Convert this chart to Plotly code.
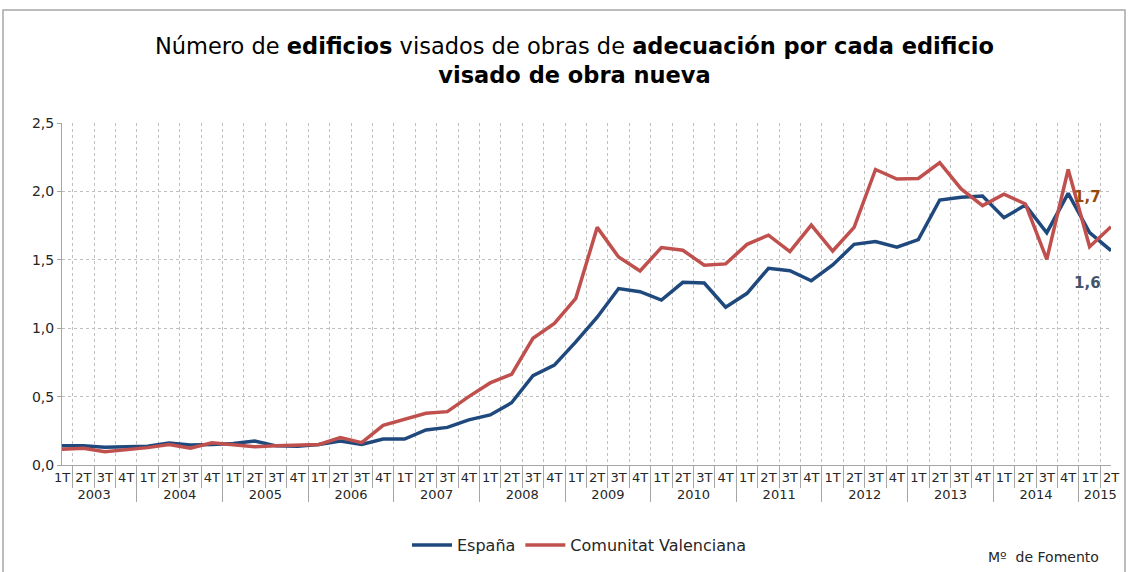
import plotly.graph_objects as go

# Trimestres 2003 1T .. 2015 2T
years = [str(y) for y in range(2003, 2016)]
quarters = ["1T", "2T", "3T", "4T"]

espana = [
    0.14, 0.14, 0.13, 0.134,
    0.137, 0.16, 0.146, 0.15,
    0.158, 0.175, 0.14, 0.137,
    0.15, 0.175, 0.15, 0.19,
    0.19, 0.256, 0.275, 0.33,
    0.366, 0.455, 0.653, 0.73,
    0.90, 1.08, 1.29, 1.267,
    1.206, 1.335, 1.33, 1.153,
    1.255, 1.438, 1.42, 1.347,
    1.462, 1.613, 1.633, 1.593,
    1.647, 1.937, 1.957, 1.966,
    1.808, 1.90, 1.698, 1.986,
    1.698, 1.567,
]
valenciana = [
    0.115, 0.122, 0.097, 0.11,
    0.127, 0.15, 0.122, 0.163,
    0.146, 0.134, 0.14, 0.146,
    0.15, 0.20, 0.163, 0.29,
    0.334, 0.378, 0.39, 0.50,
    0.60, 0.663, 0.926, 1.035,
    1.218, 1.737, 1.52, 1.418,
    1.59, 1.57, 1.46, 1.47,
    1.613, 1.68, 1.56, 1.754,
    1.564, 1.737, 2.16, 2.09,
    2.095, 2.21, 2.018, 1.896,
    1.98, 1.908, 1.504, 2.16,
    1.596, 1.742,
]

n = len(espana)
x_year = [years[i // 4] for i in range(n)]
x_q = [quarters[i % 4] for i in range(n)]

FONT = "DejaVu Sans"
AZUL = "#1F497D"
ROJO = "#C0504D"

fig = go.Figure()
fig.add_trace(go.Scatter(x=[x_year, x_q], y=espana, name="España", mode="lines",
                         line=dict(color=AZUL, width=3.5)))
fig.add_trace(go.Scatter(x=[x_year, x_q], y=valenciana, name="Comunitat Valenciana", mode="lines",
                         line=dict(color=ROJO, width=3.5)))

W, H = 1129, 572
L, R, T, B = 62, 18, 123, 107
pw, ph = W - L - R, H - T - B

def px_x(p):
    return (p - L) / pw

def px_y(p):
    return (H - B - p) / ph

fig.update_layout(
    width=W, height=H,
    margin=dict(l=L, r=R, t=T, b=B, autoexpand=False),
    paper_bgcolor="white", plot_bgcolor="white",
    separators=",.",
    font=dict(family=FONT, size=13, color="#262626"),
    showlegend=True,
    legend=dict(orientation="h", x=px_x(579), xanchor="center", y=px_y(545), yanchor="middle",
                font=dict(size=16, color="#262626"), itemwidth=40),
)

fig.update_xaxes(
    type="multicategory",
    showgrid=True, gridcolor="#BFBFBF", griddash="dot", gridwidth=1,
    tickson="boundaries", ticks="outside", ticklen=22, tickcolor="#A6A6A6",
    showline=True, linecolor="#A6A6A6", linewidth=1,
    showdividers=True, dividercolor="#A6A6A6", dividerwidth=1,
    tickangle=0,
    tickfont=dict(size=13, color="#262626"),
)
fig.update_yaxes(
    range=[0, 2.5], dtick=0.5, tickformat=".1f",
    showgrid=True, gridcolor="#BFBFBF", griddash="dot", gridwidth=1,
    showline=True, linecolor="#A6A6A6", linewidth=1,
    ticks="outside", ticklen=4, tickcolor="#A6A6A6",
    tickfont=dict(size=14, color="#262626"), zeroline=False,
)

# marco del gráfico
fig.add_shape(type="rect", xref="paper", yref="paper",
              x0=px_x(3), x1=px_x(1125), y0=px_y(H + 5), y1=px_y(10),
              line=dict(color="#A6A6A6", width=1.5), fillcolor="rgba(0,0,0,0)", layer="below")

fig.add_annotation(
    xref="paper", yref="paper", x=px_x(574), y=px_y(61), xanchor="center", yanchor="middle",
    text="Número de <b>edificios</b> visados de obras de <b>adecuación por cada edificio</b><br><b>visado de obra nueva</b>",
    showarrow=False, font=dict(family=FONT, size=22.5, color="#000000"), align="center",
)

def fmt(v):
    return f"{v:.1f}".replace(".", ",")

fig.add_annotation(xref="paper", yref="y", x=px_x(1103), y=valenciana[-1], yshift=30,
                   text=f"<b>{fmt(valenciana[-1])}</b>", showarrow=False,
                   font=dict(family=FONT, size=15, color="#984807"))
fig.add_annotation(xref="paper", yref="y", x=px_x(1103), y=espana[-1], yshift=-32,
                   text=f"<b>{fmt(espana[-1])}</b>", showarrow=False,
                   font=dict(family=FONT, size=15, color="#44546A"))

fig.add_annotation(xref="paper", yref="paper", x=px_x(1043), y=px_y(557), xanchor="center", yanchor="middle",
                   text="Mº  de Fomento", showarrow=False, font=dict(family=FONT, size=14, color="#262626"))

fig.write_html("out.html", config={"displayModeBar": False},
               post_script="document.body.style.margin='0px';")
